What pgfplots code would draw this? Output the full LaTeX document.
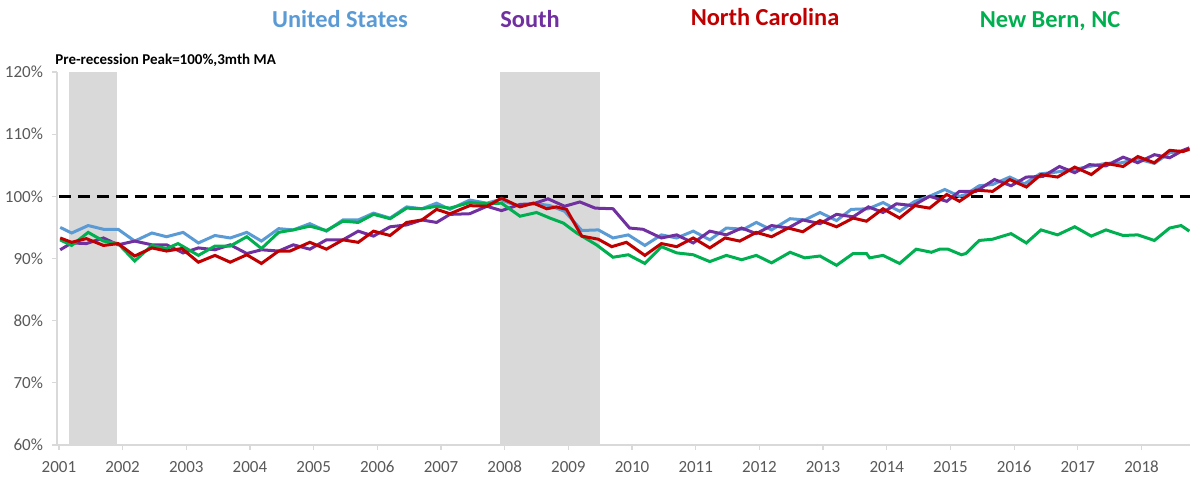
\documentclass[border=0pt]{standalone}
\usepackage{fontspec}
\setmainfont{Carlito}
\usepackage{pgfplots}
\pgfplotsset{compat=1.18}
\definecolor{cUS}{HTML}{5B9BD5}
\definecolor{cSO}{HTML}{7030A0}
\definecolor{cNC}{HTML}{C00000}
\definecolor{cNB}{HTML}{00B050}
\definecolor{shade}{HTML}{D9D9D9}
\definecolor{axgray}{HTML}{D9D9D9}
\definecolor{lblgray}{HTML}{595959}
\begin{document}
\begin{tikzpicture}
\begin{axis}[
  scale only axis,
  width=566.5pt, height=186.5pt,
  xmin=2000.97, xmax=2018.76,
  ymin=60, ymax=120,
  axis lines*=left,
  axis line style={axgray, line width=0.8pt},
  clip=false,
  xtick={2001,...,2018},
  xticklabels={2001,2002,2003,2004,2005,2006,2007,2008,2009,2010,2011,2012,2013,2014,2015,2016,2017,2018},
  ytick={60,70,80,90,100,110,120},
  yticklabels={60\%,70\%,80\%,90\%,100\%,110\%,120\%},
  tick align=outside,
  major tick length=2.5pt,
  tick style={axgray, line width=0.6pt},
  ticklabel style={font=\fontsize{8.5}{9}\selectfont, text=lblgray},
  /pgf/number format/assume math mode=true,
  xticklabel style={yshift=-2pt},
  yticklabel style={xshift=-1pt},
]
% recession shading
\addplot[fill=shade, draw=none] coordinates {(2001.16,60)(2001.16,120)(2001.91,120)(2001.91,60)} -- cycle;
\addplot[fill=shade, draw=none] coordinates {(2007.92,60)(2007.92,120)(2009.49,120)(2009.49,60)} -- cycle;
% 100% line
\addplot[black, line width=1.5pt, dash pattern=on 6pt off 3.5pt] coordinates {(2001.0,100)(2018.76,100)};
% United States
\addplot[cUS, line width=1.5pt] coordinates {
(2001.02,95.0)(2001.20,94.1)(2001.46,95.3)(2001.70,94.7)(2001.93,94.7)(2002.19,92.8)(2002.46,94.1)(2002.69,93.5)(2002.95,94.2)(2003.19,92.5)(2003.45,93.7)(2003.69,93.3)(2003.95,94.2)(2004.18,92.8)(2004.45,94.8)(2004.68,94.6)(2004.94,95.6)(2005.20,94.4)(2005.46,96.2)(2005.70,96.2)(2005.94,97.3)(2006.20,96.5)(2006.46,98.3)(2006.70,98.0)(2006.93,98.9)(2007.14,97.9)(2007.45,99.4)(2007.72,98.9)(2007.93,99.5)(2008.08,98.9)(2008.24,98.4)(2008.45,98.9)(2008.71,98.5)(2008.94,97.6)(2009.21,94.5)(2009.47,94.6)(2009.70,93.3)(2009.94,93.8)(2010.20,92.1)(2010.46,93.8)(2010.70,93.3)(2010.96,94.4)(2011.22,93.0)(2011.48,94.9)(2011.75,94.7)(2011.95,95.8)(2012.19,94.6)(2012.48,96.4)(2012.71,96.2)(2012.95,97.4)(2013.21,96.1)(2013.44,97.9)(2013.71,98.0)(2013.94,99.0)(2014.20,97.6)(2014.44,99.2)(2014.67,100.0)(2014.91,101.1)(2015.14,100.0)(2015.24,100.3)(2015.45,101.7)(2015.66,101.9)(2015.93,103.1)(2016.16,102.0)(2016.40,103.6)(2016.66,103.9)(2016.92,104.3)(2017.18,104.8)(2017.44,105.3)(2017.68,105.4)(2017.94,106.0)(2018.20,105.3)(2018.44,107.0)(2018.75,107.5)};
% South
\addplot[cSO, line width=1.5pt] coordinates {
(2001.02,91.4)(2001.20,92.5)(2001.43,92.4)(2001.70,93.3)(2001.93,92.2)(2002.19,92.8)(2002.46,92.2)(2002.69,92.2)(2002.95,90.9)(2003.19,91.7)(2003.45,91.4)(2003.69,92.2)(2003.95,90.8)(2004.18,91.4)(2004.45,91.2)(2004.68,92.2)(2004.94,91.5)(2005.20,93.0)(2005.46,93.0)(2005.70,94.4)(2005.94,93.6)(2006.20,95.1)(2006.46,95.4)(2006.70,96.2)(2006.93,95.8)(2007.14,97.1)(2007.45,97.2)(2007.72,98.4)(2007.95,97.7)(2008.24,98.7)(2008.45,98.8)(2008.68,99.6)(2008.94,98.4)(2009.18,99.1)(2009.42,98.1)(2009.70,98.0)(2009.96,94.9)(2010.17,94.7)(2010.46,93.3)(2010.70,93.8)(2010.96,92.5)(2011.22,94.4)(2011.48,93.8)(2011.72,94.9)(2011.95,94.0)(2012.19,95.3)(2012.45,94.9)(2012.68,96.2)(2012.95,95.6)(2013.21,97.1)(2013.47,96.7)(2013.71,98.3)(2013.94,97.4)(2014.15,98.8)(2014.41,98.5)(2014.67,100.0)(2014.94,99.2)(2015.14,100.8)(2015.40,100.8)(2015.69,102.7)(2015.95,101.7)(2016.19,103.1)(2016.45,103.2)(2016.71,104.8)(2016.95,103.8)(2017.18,105.1)(2017.44,104.9)(2017.71,106.3)(2017.94,105.4)(2018.20,106.7)(2018.44,106.2)(2018.65,107.4)(2018.75,107.8)};
% New Bern, NC
\addplot[cNB, line width=1.5pt] coordinates {
(2001.02,93.0)(2001.20,92.1)(2001.46,94.2)(2001.70,92.8)(2001.93,92.4)(2002.19,89.6)(2002.46,92.1)(2002.69,91.6)(2002.87,92.4)(2003.19,90.5)(2003.45,92.0)(2003.69,92.0)(2003.95,93.5)(2004.18,91.6)(2004.45,94.2)(2004.68,94.6)(2004.94,95.2)(2005.20,94.5)(2005.46,96.0)(2005.70,95.8)(2005.94,97.1)(2006.20,96.4)(2006.46,98.1)(2006.70,98.0)(2006.93,98.4)(2007.14,98.1)(2007.45,99.0)(2007.72,98.8)(2007.95,98.9)(2008.24,96.8)(2008.50,97.4)(2008.71,96.5)(2008.92,95.7)(2009.13,94.1)(2009.44,92.2)(2009.70,90.2)(2009.94,90.6)(2010.20,89.2)(2010.46,91.9)(2010.70,90.9)(2010.96,90.6)(2011.22,89.5)(2011.48,90.5)(2011.72,89.8)(2011.95,90.5)(2012.19,89.3)(2012.48,91.0)(2012.71,90.1)(2012.95,90.4)(2013.21,88.9)(2013.47,90.8)(2013.68,90.8)(2013.73,90.1)(2013.94,90.5)(2014.20,89.2)(2014.46,91.5)(2014.70,91.0)(2014.83,91.5)(2014.96,91.5)(2015.17,90.6)(2015.24,90.8)(2015.45,92.9)(2015.66,93.1)(2015.82,93.6)(2015.95,94.0)(2016.19,92.5)(2016.42,94.6)(2016.68,93.8)(2016.95,95.1)(2017.21,93.6)(2017.44,94.6)(2017.71,93.7)(2017.94,93.8)(2018.20,92.9)(2018.44,94.9)(2018.62,95.3)(2018.75,94.4)};
% North Carolina
\addplot[cNC, line width=1.5pt] coordinates {
(2001.02,93.3)(2001.20,92.6)(2001.43,93.2)(2001.70,92.1)(2001.93,92.4)(2002.19,90.4)(2002.46,91.7)(2002.69,91.2)(2002.93,91.6)(2003.19,89.4)(2003.45,90.5)(2003.69,89.4)(2003.95,90.6)(2004.18,89.2)(2004.45,91.2)(2004.63,91.2)(2004.94,92.6)(2005.20,91.5)(2005.46,93.0)(2005.70,92.6)(2005.94,94.4)(2006.20,93.7)(2006.46,95.8)(2006.70,96.2)(2006.93,97.9)(2007.14,97.2)(2007.45,98.5)(2007.72,98.4)(2007.95,99.7)(2008.24,98.3)(2008.45,98.9)(2008.66,98.0)(2008.81,98.3)(2008.97,97.9)(2009.21,93.6)(2009.47,93.1)(2009.68,91.9)(2009.91,92.6)(2010.20,90.5)(2010.46,92.4)(2010.70,91.9)(2010.96,93.3)(2011.22,91.7)(2011.46,93.3)(2011.69,92.8)(2011.95,94.2)(2012.19,93.5)(2012.45,94.9)(2012.68,94.3)(2012.95,96.1)(2013.21,95.1)(2013.47,96.5)(2013.68,96.0)(2013.94,98.0)(2014.20,96.5)(2014.44,98.5)(2014.67,98.1)(2014.94,100.3)(2015.14,99.2)(2015.40,101.0)(2015.66,100.8)(2015.93,102.7)(2016.19,101.5)(2016.42,103.5)(2016.68,103.1)(2016.95,104.7)(2017.21,103.5)(2017.44,105.3)(2017.71,104.8)(2017.94,106.4)(2018.20,105.4)(2018.44,107.4)(2018.65,107.2)(2018.75,107.6)};
\end{axis}
\node[anchor=south west, inner sep=0pt, font=\fontsize{7.5}{8}\bfseries\selectfont] at ([shift={(-1pt,2.5pt)}]current axis.north west) {Pre-recession Peak=100\%,3mth MA};
\node[font=\fontsize{12.2}{14}\bfseries\selectfont, text=cUS] at ([shift={(141.5pt,26.5pt)}]current axis.north west) {United States};
\node[font=\fontsize{12.2}{14}\bfseries\selectfont, text=cSO] at ([shift={(236.5pt,26.5pt)}]current axis.north west) {South};
\node[font=\fontsize{12.2}{14}\bfseries\selectfont, text=cNC] at ([shift={(354pt,27.5pt)}]current axis.north west) {North Carolina};
\node[font=\fontsize{12.2}{14}\bfseries\selectfont, text=cNB] at ([shift={(496.5pt,25.5pt)}]current axis.north west) {New Bern, NC};
\pgfresetboundingbox
\path[use as bounding box] ([shift={(-28.5pt,-16.5pt)}]current axis.south west) rectangle ([shift={(0pt,36pt)}]current axis.north east);
\end{tikzpicture}
\end{document}
